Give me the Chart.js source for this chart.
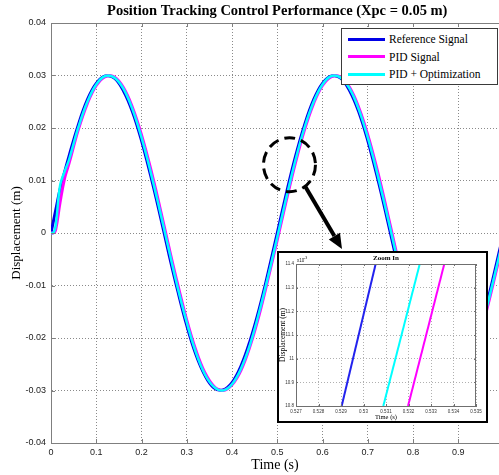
<!DOCTYPE html>
<html>
<head>
<meta charset="utf-8">
<script src="https://cdn.jsdelivr.net/npm/chart.js@4.4.0/dist/chart.umd.min.js"></script>
<style>
  html, body { margin: 0; padding: 0; background: #fff; }
  #wrap { position: relative; width: 499px; height: 475px; overflow: hidden; }
  #mainChart { position: absolute; left: 0; top: 0; }
  #legend {
    position: absolute; left: 341px; top: 28px; width: 157px; height: 57px;
    box-sizing: border-box; border: 1px solid #3a3a3a; background: #fff;
    font: 11.5px 'Liberation Serif', 'Times New Roman', serif; color: #000;
  }
  #legend .row { position: absolute; left: 0; height: 16px; line-height: 16px; width: 100%; }
  #legend .swatch { position: absolute; left: 6px; top: 6.5px; width: 37px; height: 3px; }
  #legend .lbl { position: absolute; left: 47px; top: 0; white-space: nowrap; }
  #inset {
    position: absolute; left: 277px; top: 251px; width: 211px; height: 172px;
    box-sizing: border-box; border: 2px solid #000; background: #fff;
  }
</style>
</head>
<body>
<div id="wrap">
  <canvas id="mainChart" width="499" height="475"></canvas>
  <div id="legend"></div>
  <div id="inset"><canvas id="insetChart" width="207" height="168"></canvas></div>
</div>
<script>
// time axis (s)
const timeValues = [0, 0.005, 0.01, 0.02, 0.03, 0.04, 0.06, 0.08, 0.10, 0.12, 0.14, 0.16, 0.18, 0.20,
  0.22, 0.24, 0.26, 0.28, 0.30, 0.32, 0.34, 0.36, 0.38, 0.40, 0.42, 0.44, 0.46, 0.48, 0.50,
  0.52, 0.54, 0.56, 0.58, 0.60, 0.62, 0.64, 0.66, 0.68, 0.70, 0.72, 0.74, 0.76, 0.78, 0.80,
  0.82, 0.84, 0.86, 0.88, 0.90, 0.92, 0.94, 0.96, 0.98, 1.00];

// displacement (m)
const referenceValues = [0, 0.0021, 0.0042, 0.0083, 0.0116, 0.0147, 0.0205, 0.0253, 0.0285, 0.0299,
  0.0295, 0.0271, 0.0231, 0.0176, 0.0110, 0.0038, -0.0038, -0.0110, -0.0176, -0.0231, -0.0271,
  -0.0295, -0.0299, -0.0285, -0.0253, -0.0205, -0.0145, -0.0075, 0,
  0.0075, 0.0145, 0.0205, 0.0253, 0.0285, 0.0299, 0.0295, 0.0271, 0.0231, 0.0176, 0.0110, 0.0038,
  -0.0038, -0.0110, -0.0176, -0.0231, -0.0271, -0.0295, -0.0299, -0.0285, -0.0253, -0.0205,
  -0.0145, -0.0075, 0];

const pidValues = [0, 0, 0.0005, 0.0058, 0.0104, 0.0133, 0.0196, 0.0246, 0.0281, 0.0298,
  0.0297, 0.0277, 0.0239, 0.0187, 0.0123, 0.0051, -0.0025, -0.0098, -0.0166, -0.0223, -0.0266,
  -0.0292, -0.0300, -0.0289, -0.0261, -0.0215, -0.0156, -0.0086, -0.0013,
  0.0062, 0.0133, 0.0196, 0.0246, 0.0281, 0.0298, 0.0297, 0.0277, 0.0239, 0.0187, 0.0123, 0.0051,
  -0.0025, -0.0098, -0.0166, -0.0223, -0.0266, -0.0292, -0.0300, -0.0289, -0.0261, -0.0215,
  -0.0156, -0.0086, -0.0013];

const optimizedValues = [0, 0, 0.0012, 0.0090, 0.0117, 0.0140, 0.0200, 0.0249, 0.0283, 0.0299,
  0.0296, 0.0275, 0.0236, 0.0182, 0.0117, 0.0045, -0.0030, -0.0104, -0.0170, -0.0227, -0.0269,
  -0.0293, -0.0300, -0.0288, -0.0258, -0.0212, -0.0151, -0.0082, -0.0008,
  0.0067, 0.0138, 0.0200, 0.0249, 0.0283, 0.0299, 0.0296, 0.0275, 0.0236, 0.0182, 0.0117, 0.0045,
  -0.0030, -0.0104, -0.0170, -0.0227, -0.0269, -0.0293, -0.0300, -0.0288, -0.0258, -0.0212,
  -0.0151, -0.0082, -0.0008];

const seriesLabels = ['Reference Signal', 'PID Signal', 'PID + Optimization'];
const xTickValues = [0, 0.1, 0.2, 0.3, 0.4, 0.5, 0.6, 0.7, 0.8, 0.9];
const yTickValues = [-0.04, -0.03, -0.02, -0.01, 0, 0.01, 0.02, 0.03, 0.04];

// zoom-in inset (time in s, displacement in 1e-3 m)
const insetXTicks = [0.527, 0.528, 0.529, 0.53, 0.531, 0.532, 0.533, 0.534, 0.535];
const insetYTicks = [10.8, 10.9, 11.0, 11.1, 11.2, 11.3, 11.4];
const insetRefTime = [0.52903, 0.53054];
const insetRefValues = [10.8, 11.4];
const insetPidTime = [0.53198, 0.53359];
const insetPidValues = [10.8, 11.4];
const insetOptTime = [0.53088, 0.53250];
const insetOptValues = [10.8, 11.4];

// where the dashed circle sits on the main plot
const zoomSpot = { t: 0.527, y: 0.0130 };

const serif = "'Liberation Serif', 'Times New Roman', serif";
const sans = "'Liberation Sans', Arial, sans-serif";
const axisGray = '#7f7f7f';

const toPoints = (xs, ys) => xs.map((x, i) => ({ x: x, y: ys[i] }));

// MATLAB-ish frame: top border, inward tick marks
const framePlugin = {
    id: 'frame',
    afterDraw(chart, args, opts) {
        const { ctx, chartArea: a, scales } = chart;
        const len = opts.tickLen || 4;
        ctx.save();
        ctx.strokeStyle = opts.color || axisGray;
        ctx.lineWidth = 1;
        ctx.beginPath();
        ctx.moveTo(a.left, a.top + 0.5);
        ctx.lineTo(a.right, a.top + 0.5);
        if (opts.rightBorder) {
            ctx.moveTo(a.right - 0.5, a.top);
            ctx.lineTo(a.right - 0.5, a.bottom);
        }
        opts.xTicks.forEach(v => {
            const px = Math.round(scales.x.getPixelForValue(v)) + 0.5;
            ctx.moveTo(px, a.bottom);
            ctx.lineTo(px, a.bottom - len);
            ctx.moveTo(px, a.top);
            ctx.lineTo(px, a.top + len);
        });
        opts.yTicks.forEach(v => {
            const py = Math.round(scales.y.getPixelForValue(v)) + 0.5;
            ctx.moveTo(a.left, py);
            ctx.lineTo(a.left + len, py);
            if (opts.rightBorder) {
                ctx.moveTo(a.right, py);
                ctx.lineTo(a.right - len, py);
            }
        });
        ctx.stroke();
        ctx.restore();
    }
};

// title (centred over the full 0..1 s axis, which the figure crops) + dashed circle and arrow
const annotatePlugin = {
    id: 'annotate',
    afterDraw(chart) {
        const { ctx, scales } = chart;
        ctx.save();
        ctx.fillStyle = '#000';
        ctx.textAlign = 'center';
        ctx.textBaseline = 'middle';
        ctx.font = 'bold 14.5px ' + serif;
        const titleX = (scales.x.getPixelForValue(0) + scales.x.getPixelForValue(1)) / 2;
        ctx.fillText('Position Tracking Control Performance (Xpc = 0.05 m)', titleX, 11);

        const cx = scales.x.getPixelForValue(zoomSpot.t);
        const cy = scales.y.getPixelForValue(zoomSpot.y);
        ctx.strokeStyle = '#000';
        ctx.lineWidth = 3;
        ctx.setLineDash([11, 6]);
        ctx.beginPath();
        ctx.ellipse(cx, cy, 26, 27, 0, 0, Math.PI * 2);
        ctx.stroke();
        ctx.setLineDash([]);

        const sx = cx + 26 * 0.6, sy = cy + 27 * 0.8;
        const tx = 342, ty = 249;
        const dx = tx - sx, dy = ty - sy, d = Math.hypot(dx, dy);
        const ux = dx / d, uy = dy / d;
        const headLen = 15, headW = 6.5;
        const bx = tx - ux * headLen, by = ty - uy * headLen;
        ctx.lineWidth = 4;
        ctx.beginPath();
        ctx.moveTo(sx, sy);
        ctx.lineTo(bx, by);
        ctx.stroke();
        ctx.beginPath();
        ctx.moveTo(tx, ty);
        ctx.lineTo(bx - uy * headW, by + ux * headW);
        ctx.lineTo(bx + uy * headW, by - ux * headW);
        ctx.closePath();
        ctx.fill();
        ctx.restore();
    }
};

const mainChart = new Chart(document.getElementById('mainChart'), {
    type: 'line',
    data: {
        datasets: [{
            label: seriesLabels[0],
            data: toPoints(timeValues, referenceValues),
            borderColor: '#0000e6',
            borderWidth: 3,
            order: 2
        }, {
            label: seriesLabels[1],
            data: toPoints(timeValues, pidValues),
            borderColor: '#ff00ff',
            borderWidth: 3,
            order: 1
        }, {
            label: seriesLabels[2],
            data: toPoints(timeValues, optimizedValues),
            borderColor: '#00ffff',
            borderWidth: 2.5,
            order: 0
        }]
    },
    options: {
        responsive: false,
        animation: false,
        devicePixelRatio: 1,
        elements: { point: { radius: 0 }, line: { tension: 0.4, fill: false } },
        layout: { padding: { top: 23, left: 0, right: 0, bottom: 0 } },
        plugins: {
            legend: { display: false },
            tooltip: { enabled: false },
            title: { display: false },
            frame: { xTicks: xTickValues, yTicks: yTickValues, tickLen: 4 }
        },
        scales: {
            x: {
                type: 'linear',
                min: 0,
                max: 0.99,
                afterBuildTicks: s => { s.ticks = xTickValues.map(v => ({ value: v })); },
                afterFit: s => { s.height = 32; },
                grid: { color: '#8a8a8a', drawTicks: false },
                border: { color: axisGray, width: 1, dash: [1, 2] },
                ticks: {
                    padding: 4, color: '#1a1a1a', autoSkip: false, maxRotation: 0,
                    font: { family: sans, size: 9 },
                    callback: v => String(Math.round(v * 10) / 10)
                },
                title: {
                    display: true, text: 'Time (s)', color: '#000',
                    font: { family: serif, size: 14 }, padding: { top: 0, bottom: 1.6 }
                }
            },
            y: {
                min: -0.04,
                max: 0.04,
                afterBuildTicks: s => { s.ticks = yTickValues.map(v => ({ value: v })); },
                afterFit: s => { s.width = 51; },
                grid: { color: '#8a8a8a', drawTicks: false },
                border: { color: axisGray, width: 1, dash: [1, 2] },
                ticks: {
                    padding: 5, color: '#1a1a1a',
                    font: { family: sans, size: 9 },
                    callback: v => String(Math.round(v * 100) / 100)
                },
                title: {
                    display: true, text: 'Displacement (m)', color: '#000',
                    font: { family: serif, size: 13 }, padding: { top: 9, bottom: 0 }
                }
            }
        }
    },
    plugins: [framePlugin, annotatePlugin]
});

// legend box inside the plot
const legendBox = document.getElementById('legend');
mainChart.data.datasets.forEach((ds, i) => {
    const row = document.createElement('div');
    row.className = 'row';
    row.style.top = (2 + i * 17.5) + 'px';
    const sw = document.createElement('span');
    sw.className = 'swatch';
    sw.style.background = ds.borderColor;
    const lbl = document.createElement('span');
    lbl.className = 'lbl';
    lbl.textContent = ds.label;
    row.appendChild(sw);
    row.appendChild(lbl);
    legendBox.appendChild(row);
});

// small texts of the inset plot
const insetTextPlugin = {
    id: 'insetText',
    afterDraw(chart) {
        const { ctx, chartArea: a } = chart;
        const midX = (a.left + a.right) / 2, midY = (a.top + a.bottom) / 2;
        ctx.save();
        ctx.fillStyle = '#000';
        ctx.textAlign = 'center';
        ctx.textBaseline = 'middle';
        ctx.font = 'bold 7px ' + serif;
        ctx.fillText('Zoom In', midX, 5.5);
        ctx.font = '6.5px ' + serif;
        ctx.fillText('Time (s)', midX, 164.5);
        ctx.translate(4, midY);
        ctx.rotate(-Math.PI / 2);
        ctx.font = '7.5px ' + serif;
        ctx.fillText('Displacement (m)', 0, 0);
        ctx.restore();
        ctx.save();
        ctx.fillStyle = '#222';
        ctx.textBaseline = 'alphabetic';
        ctx.font = '4.5px ' + sans;
        ctx.fillText('x10', a.left + 1, 8.5);
        ctx.font = '3.5px ' + sans;
        ctx.fillText('-3', a.left + 8, 6);
        ctx.restore();
    }
};

new Chart(document.getElementById('insetChart'), {
    type: 'line',
    data: {
        datasets: [{
            label: seriesLabels[0],
            data: toPoints(insetRefTime, insetRefValues),
            borderColor: '#2222ee',
            borderWidth: 2
        }, {
            label: seriesLabels[1],
            data: toPoints(insetPidTime, insetPidValues),
            borderColor: '#ff00ff',
            borderWidth: 2
        }, {
            label: seriesLabels[2],
            data: toPoints(insetOptTime, insetOptValues),
            borderColor: '#00ffff',
            borderWidth: 2
        }]
    },
    options: {
        responsive: false,
        animation: false,
        devicePixelRatio: 1,
        elements: { point: { radius: 0 }, line: { tension: 0, fill: false } },
        layout: { padding: { top: 11, right: 10, left: 0, bottom: 0 } },
        plugins: {
            legend: { display: false },
            tooltip: { enabled: false },
            title: { display: false },
            frame: { xTicks: insetXTicks, yTicks: insetYTicks, tickLen: 2, rightBorder: true, color: '#6f6f6f' }
        },
        scales: {
            x: {
                type: 'linear',
                min: 0.527,
                max: 0.535,
                afterBuildTicks: s => { s.ticks = insetXTicks.map(v => ({ value: v })); },
                afterFit: s => { s.height = 15; },
                grid: { color: '#b0b0b0', drawTicks: false },
                border: { color: '#6f6f6f', width: 1, dash: [1, 2] },
                ticks: {
                    padding: 3, color: '#333', autoSkip: false, maxRotation: 0,
                    font: { family: sans, size: 4.5 },
                    callback: v => String(+v.toFixed(3))
                }
            },
            y: {
                min: 10.8,
                max: 11.4,
                afterBuildTicks: s => { s.ticks = insetYTicks.map(v => ({ value: v })); },
                afterFit: s => { s.width = 17; },
                grid: { color: '#b0b0b0', drawTicks: false },
                border: { color: '#6f6f6f', width: 1, dash: [1, 2] },
                ticks: {
                    padding: 2, color: '#333',
                    font: { family: sans, size: 4.5 },
                    callback: v => String(+v.toFixed(1))
                }
            }
        }
    },
    plugins: [framePlugin, insetTextPlugin]
});
</script>
</body>
</html>
